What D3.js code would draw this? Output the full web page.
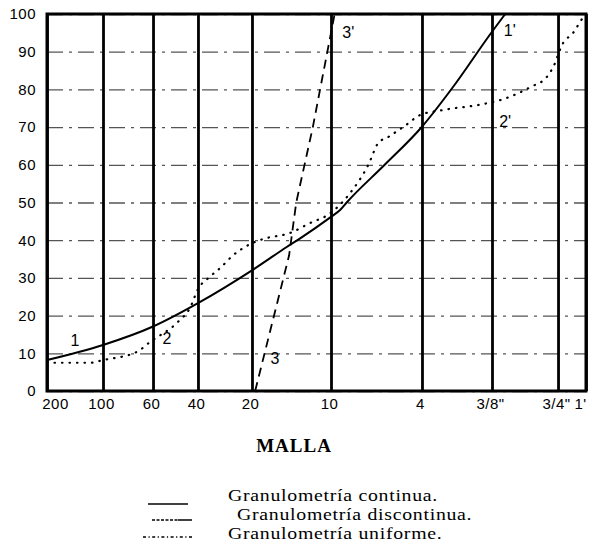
<!DOCTYPE html>
<html>
<head>
<meta charset="utf-8">
<script src="https://cdn.jsdelivr.net/npm/d3@7/dist/d3.min.js"></script>
<style>
  body { margin: 0; background: #fff; }
  svg { display: block; }
</style>
</head>
<body>
<svg></svg>
<script>
// sieve names on the bottom axis (0 = 200 mesh ... 9 = 1")
let sieves = ['200', '100', '60', '40', '20', '10', '4', '3/8"', '3/4"', "1'"]
let yTicks = [0, 10, 20, 30, 40, 50, 60, 70, 80, 90, 100]

// curves: [sieve index, % passing]
let continua = [[0, 8.2], [1, 12.2], [2, 17.1], [3, 23.3], [4, 32], [4.44, 38.2], [4.61, 40.5],
  [5, 46.2], [5.10, 48], [5.18, 50.2], [5.59, 60], [6, 70.1], [6.43, 80.3], [7, 95.3], [7.2, 100]]

let discontinua = [[0, 7.5], [0.77, 7.5], [1, 8.2], [1.68, 10.4], [1.94, 13], [2.56, 18.4],
  [2.82, 22], [3, 27], [3.22, 30.3], [3.41, 32.6], [3.65, 36], [3.93, 38.7], [4.14, 40.3],
  [4.48, 41.9], [4.77, 44.9], [4.92, 46.2], [5.21, 52.5], [5.41, 60], [5.52, 65.8], [5.63, 67.4],
  [5.81, 70.3], [5.98, 73.2], [6.29, 74.5], [6.87, 76.1], [7.17, 77.4], [7.58, 80.6],
  [7.83, 83.3], [7.92, 85.7], [8.18, 92.3], [8.54, 95], [8.86, 98.7], [9, 100]]

let uniforme = [[4.04, 0], [4.47, 36], [4.56, 50], [4.77, 70], [5, 95], [5.04, 100]]

let curveLabels = [
  ['1', 0.5, 13.5], ["1'", 7.27, 95.5],
  ['2', 2.31, 14], ["2'", 7.2, 71.4],
  ['3', 4.29, 8.7], ["3'", 5.19, 95.2]
]

let legendTexts = ['Granulometría continua.', 'Granulometría discontinua.', 'Granulometría uniforme.']

let width = 589
let height = 556
let plotLeft = 47
let plotRight = 586
let plotTop = 14
let plotBottom = 391

let svg = d3.select('svg')
  .attr('width', width)
  .attr('height', height)

// the sieve axis is not evenly spaced
let xStops = [0, 0.1039, 0.1967, 0.2801, 0.3803, 0.5269, 0.6957, 0.8256, 0.9481, 1]
let xScale = d3.scaleLinear()
  .domain(d3.range(sieves.length))
  .range(xStops.map(f => plotLeft + f * (plotRight - plotLeft)))

let yScale = d3.scaleLinear()
  .domain([0, 100])
  .range([plotBottom, plotTop])

// horizontal dash-dot grid
svg.append('g')
  .attr('transform', `translate(${plotLeft},0)`)
  .call(d3.axisLeft(yScale).tickValues(yTicks).tickSize(-(plotRight - plotLeft)).tickFormat(''))
  .call(g => g.select('.domain').remove())
  .selectAll('line')
  .attr('stroke', '#555')
  .attr('stroke-width', 1.3)
  .attr('stroke-dasharray', '16,6,3,6')

// vertical sieve lines
svg.append('g')
  .attr('transform', `translate(0,${plotBottom})`)
  .call(d3.axisBottom(xScale).tickValues(d3.range(sieves.length)).tickSize(-(plotBottom - plotTop)).tickFormat(''))
  .call(g => g.select('.domain').remove())
  .selectAll('line')
  .attr('stroke', '#000')
  .attr('stroke-width', 2.8)

// frame
svg.append('rect')
  .attr('x', plotLeft)
  .attr('y', plotTop)
  .attr('width', plotRight - plotLeft)
  .attr('height', plotBottom - plotTop)
  .attr('fill', 'none')
  .attr('stroke', '#000')
  .attr('stroke-width', 3)

// y labels
svg.append('g')
  .attr('transform', `translate(${plotLeft},0)`)
  .call(d3.axisLeft(yScale).tickValues(yTicks).tickSize(0).tickPadding(11))
  .call(g => g.select('.domain').remove())
  .selectAll('text')
  .attr('font-family', 'Liberation Sans, Arial, sans-serif')
  .attr('font-size', 15)
  .attr('letter-spacing', 0.5)
  .attr('fill', '#000')

// x labels
svg.append('g')
  .attr('transform', `translate(0,${plotBottom})`)
  .call(d3.axisBottom(xScale).tickValues(d3.range(sieves.length)).tickSize(0).tickPadding(7)
    .tickFormat(i => sieves[i]))
  .call(g => g.select('.domain').remove())
  .selectAll('text')
  .attr('font-family', 'Liberation Sans, Arial, sans-serif')
  .attr('font-size', 15)
  .attr('letter-spacing', 0.5)
  .attr('fill', '#000')
  .attr('dx', (d, i) => i === 0 ? 8 : (i === sieves.length - 1 ? -6 : -2))

let line = d3.line()
  .x(d => xScale(d[0]))
  .y(d => yScale(d[1]))

svg.append('path')
  .datum(continua)
  .attr('d', line.curve(d3.curveMonotoneX))
  .attr('fill', 'none')
  .attr('stroke', '#000')
  .attr('stroke-width', 2)

svg.append('path')
  .datum(discontinua)
  .attr('d', line.curve(d3.curveMonotoneX))
  .attr('fill', 'none')
  .attr('stroke', '#000')
  .attr('stroke-width', 2.2)
  .attr('stroke-linecap', 'round')
  .attr('stroke-dasharray', '0.5,7')

svg.append('path')
  .datum(uniforme)
  .attr('d', line.curve(d3.curveLinear))
  .attr('fill', 'none')
  .attr('stroke', '#000')
  .attr('stroke-width', 1.8)
  .attr('stroke-dasharray', '9,6')

svg.selectAll('.curve-label')
  .data(curveLabels)
  .enter()
  .append('text')
  .attr('class', 'curve-label')
  .attr('x', d => xScale(d[1]))
  .attr('y', d => yScale(d[2]))
  .attr('text-anchor', 'middle')
  .attr('dominant-baseline', 'central')
  .attr('font-family', 'Liberation Sans, Arial, sans-serif')
  .attr('font-size', 16)
  .text(d => d[0])

// axis title
svg.append('text')
  .attr('x', 294)
  .attr('y', 452)
  .attr('text-anchor', 'middle')
  .attr('font-family', 'Liberation Serif, Times New Roman, serif')
  .attr('font-weight', 'bold')
  .attr('font-size', 19)
  .attr('letter-spacing', 1)
  .text('MALLA')

// legend
let legend = svg.append('g')

legend.append('line')
  .attr('x1', 148).attr('x2', 188)
  .attr('y1', 504).attr('y2', 504)
  .attr('stroke', '#000').attr('stroke-width', 1.5)

legend.append('line')
  .attr('x1', 152).attr('x2', 178)
  .attr('y1', 520).attr('y2', 520)
  .attr('stroke', '#000').attr('stroke-width', 1.5)
  .attr('stroke-dasharray', '3,1.5')
legend.append('line')
  .attr('x1', 178).attr('x2', 192)
  .attr('y1', 520).attr('y2', 520)
  .attr('stroke', '#000').attr('stroke-width', 1.5)

legend.append('line')
  .attr('x1', 143).attr('x2', 193)
  .attr('y1', 537).attr('y2', 537)
  .attr('stroke', '#000').attr('stroke-width', 1.5)
  .attr('stroke-dasharray', '3,2.5,1.2,2.5')

// scanned type is wide, so stretch it a bit horizontally
legend.selectAll('.legend-text')
  .data(legendTexts)
  .enter()
  .append('text')
  .attr('class', 'legend-text')
  .attr('transform', (d, i) => `translate(${i === 1 ? 237 : 228},${501 + i * 19}) scale(1.2,1)`)
  .attr('font-family', 'Liberation Serif, Times New Roman, serif')
  .attr('font-size', 16.5)
  .attr('letter-spacing', 0.6)
  .text(d => d)
</script>
</body>
</html>
